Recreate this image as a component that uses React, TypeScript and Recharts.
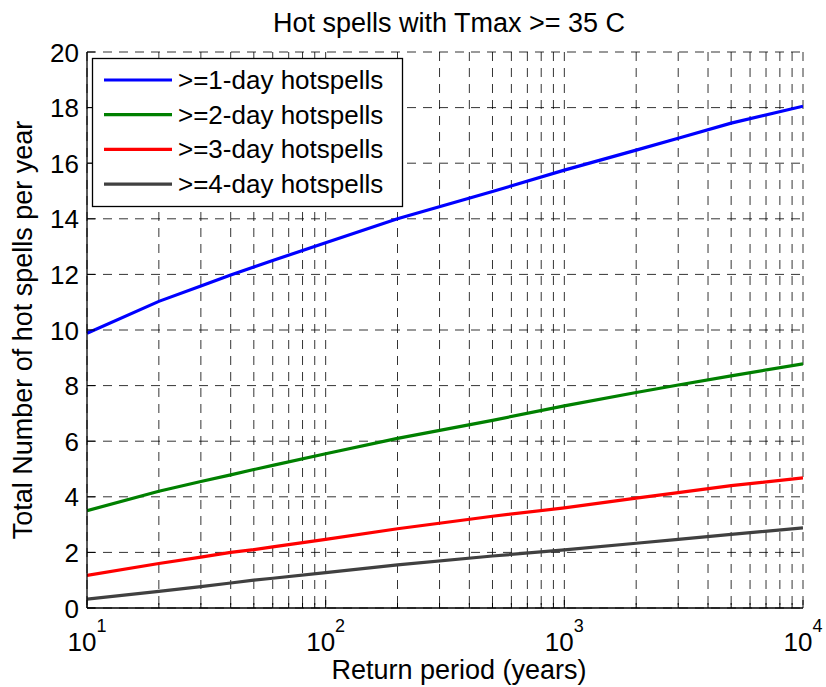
import React from 'react';
import { LineChart, Line, XAxis, YAxis, CartesianGrid } from 'recharts';

const returnPeriods = [10, 20, 30, 40, 50, 60, 100, 200, 500, 1000, 2000, 3000, 5000, 10000];
const oneDay = [9.88, 11.03, 11.58, 11.98, 12.27, 12.5, 13.14, 14.0, 14.98, 15.75, 16.47, 16.9, 17.44, 18.05];
const twoDay = [3.5, 4.2, 4.55, 4.79, 4.98, 5.13, 5.55, 6.1, 6.75, 7.27, 7.75, 8.02, 8.35, 8.78];
const threeDay = [1.17, 1.6, 1.83, 2.0, 2.1, 2.2, 2.47, 2.85, 3.3, 3.6, 3.95, 4.15, 4.4, 4.68];
const fourDay = [0.32, 0.6, 0.77, 0.9, 1.0, 1.07, 1.27, 1.55, 1.87, 2.09, 2.33, 2.47, 2.65, 2.88];

const seriesNames = ['>=1-day hotspells', '>=2-day hotspells', '>=3-day hotspells', '>=4-day hotspells'];
const seriesKeys = ['d1', 'd2', 'd3', 'd4'];
const seriesColors = ['#0000ff', '#008000', '#ff0000', '#404040'];

const xTicks = [10, 20, 30, 40, 50, 60, 70, 80, 90, 100, 200, 300, 400, 500, 600, 700, 800, 900, 1000, 2000, 3000, 4000, 5000, 6000, 7000, 8000, 9000, 10000];
const yTicks = [0, 2, 4, 6, 8, 10, 12, 14, 16, 18, 20];

const title = 'Hot spells with Tmax >= 35 C';
const xLabel = 'Return period (years)';
const yLabel = 'Total Number of hot spells per year';

const data = returnPeriods.map((x, i) => ({
  x,
  d1: oneDay[i],
  d2: twoDay[i],
  d3: threeDay[i],
  d4: fourDay[i],
}));

const FONT = '"Liberation Sans", Arial, Helvetica, sans-serif';
const isDecade = (v: number) => Math.abs(Math.log10(v) - Math.round(Math.log10(v))) < 1e-9;

const BottomTick = (props: any) => {
  const { x, y, payload } = props;
  const v = payload.value;
  const dec = isDecade(v);
  const exp = Math.round(Math.log10(v));
  return (
    <g>
      <line x1={x} x2={x} y1={y} y2={y - (dec ? 8 : 5)} stroke="#000" strokeWidth={1} />
      {dec && (
        <text x={x} y={y + 43} textAnchor="middle" fontSize={26} fontFamily={FONT} fill="#000">
          10<tspan dy={-19} fontSize={18}>{exp}</tspan>
        </text>
      )}
    </g>
  );
};

const TopTick = (props: any) => {
  const { x, y, payload } = props;
  const dec = isDecade(payload.value);
  return <line x1={x} x2={x} y1={y} y2={y + (dec ? 8 : 5)} stroke="#000" strokeWidth={1} />;
};

const LeftTick = (props: any) => {
  const { x, y, payload } = props;
  return (
    <g>
      <line x1={x} x2={x + 8} y1={y} y2={y} stroke="#000" strokeWidth={1} />
      <text x={x - 8} y={y + 9.5} textAnchor="end" fontSize={26} fontFamily={FONT} fill="#000">
        {payload.value}
      </text>
    </g>
  );
};

const RightTick = (props: any) => {
  const { x, y } = props;
  return <line x1={x} x2={x - 8} y1={y} y2={y} stroke="#000" strokeWidth={1} />;
};

export default function App() {
  return (
    <div style={{ position: 'absolute', left: 0, top: 0, width: 826, height: 687, background: '#fff' }}>
      <LineChart width={826} height={687} data={data} margin={{ top: 52, right: 23, bottom: 0, left: 0 }}>
        <CartesianGrid
          xAxisId="bottom"
          yAxisId="left"
          stroke="#000"
          strokeOpacity={0.8}
          strokeDasharray="9 7"
        />
        <XAxis
          xAxisId="bottom"
          dataKey="x"
          type="number"
          scale="log"
          domain={[10, 10000]}
          ticks={xTicks}
          interval={0}
          allowDataOverflow
          height={79}
          tickSize={0}
          tickMargin={0}
          tickLine={false}
          axisLine={{ stroke: '#000', strokeWidth: 1.3 }}
          tick={<BottomTick />}
        />
        <XAxis
          xAxisId="top"
          orientation="top"
          dataKey="x"
          type="number"
          scale="log"
          domain={[10, 10000]}
          ticks={xTicks}
          interval={0}
          allowDataOverflow
          height={0}
          tickSize={0}
          tickMargin={0}
          tickLine={false}
          axisLine={{ stroke: '#000', strokeWidth: 1.3 }}
          tick={<TopTick />}
        />
        <YAxis
          yAxisId="left"
          type="number"
          domain={[0, 20]}
          ticks={yTicks}
          interval={0}
          width={87}
          tickSize={0}
          tickMargin={0}
          tickLine={false}
          axisLine={{ stroke: '#000', strokeWidth: 1.3 }}
          tick={<LeftTick />}
        />
        <YAxis
          yAxisId="right"
          orientation="right"
          type="number"
          domain={[0, 20]}
          ticks={yTicks}
          interval={0}
          width={0}
          tickSize={0}
          tickMargin={0}
          tickLine={false}
          axisLine={{ stroke: '#000', strokeWidth: 1.3 }}
          tick={<RightTick />}
        />
        {seriesKeys.map((k, i) => (
          <Line
            key={k}
            xAxisId="bottom"
            yAxisId="left"
            type="linear"
            dataKey={k}
            name={seriesNames[i]}
            stroke={seriesColors[i]}
            strokeWidth={3.2}
            dot={false}
            activeDot={false}
            isAnimationActive={false}
          />
        ))}
      </LineChart>

      <svg width={826} height={687} style={{ position: 'absolute', left: 0, top: 0, pointerEvents: 'none' }}>
        <text x={449} y={32} textAnchor="middle" fontSize={27} fontFamily={FONT} fill="#000">
          {title}
        </text>
        <text x={459} y={679} textAnchor="middle" fontSize={27} fontFamily={FONT} fill="#000">
          {xLabel}
        </text>
        <text transform="translate(32,330) rotate(-90)" textAnchor="middle" fontSize={27} fontFamily={FONT} fill="#000">
          {yLabel}
        </text>
        <g>
          <rect x={92.5} y={58.5} width={310} height={148} fill="#fff" stroke="#000" strokeWidth={1.3} />
          {seriesNames.map((n, i) => {
            const cy = 80 + i * 34.7;
            return (
              <g key={n}>
                <line x1={104} x2={172} y1={cy} y2={cy} stroke={seriesColors[i]} strokeWidth={3.2} />
                <text x={178} y={cy + 9} fontSize={26} fontFamily={FONT} fill="#000">
                  {n}
                </text>
              </g>
            );
          })}
        </g>
      </svg>
    </div>
  );
}
